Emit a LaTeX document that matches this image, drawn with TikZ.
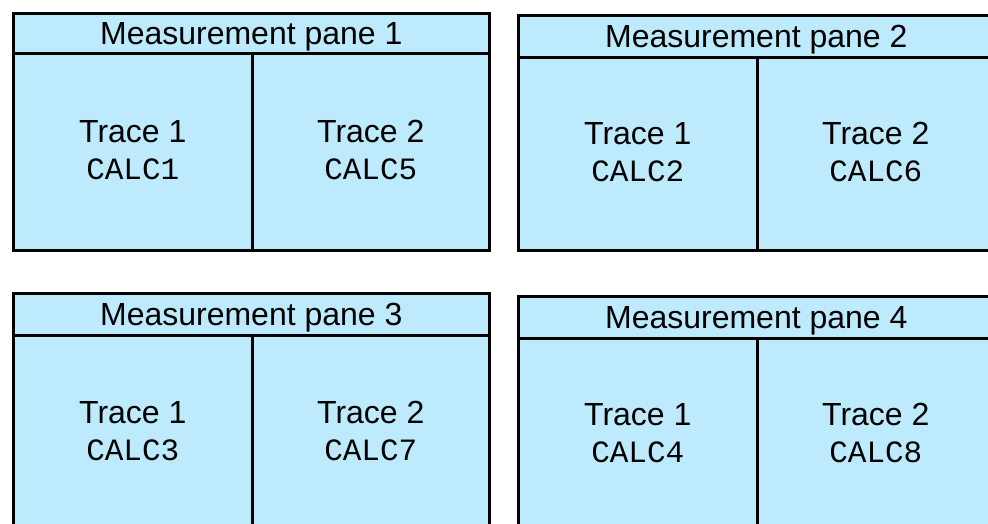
\documentclass[tikz,border=0pt]{standalone}
\usepackage{fontspec}
\setmainfont{Liberation Sans}
\setmonofont{Liberation Mono}
\definecolor{panefill}{RGB}{189,235,253}
\newcommand\mpane[8]{%
  \node[cell, minimum width=476pt, minimum height={#4*1pt}] (#1-h) at (#2,#3) {};
  \node[cell, minimum width=239pt, minimum height={(#5-#4)*1pt}] (#1-l) at (#2,#3+#4) {};
  \node[cell, minimum width=237pt, minimum height={(#5-#4)*1pt}] (#1-r) at (#2+239,#3+#4) {};
  \node[titlelbl] (#1-t) at ([yshift=-11.5pt]#1-h.center) {Measurement pane #6};
  \node[tracelbl] (#1-la) at ([yshift=9pt]#1-l.center) {Trace 1};
  \node[calclbl] (#1-lb) at ([yshift=-27.5pt]#1-l.center) {#7};
  \node[tracelbl] (#1-ra) at ([yshift=9pt]#1-r.center) {Trace 2};
  \node[calclbl] (#1-rb) at ([yshift=-27.5pt]#1-r.center) {#8};
}
\begin{document}
\begin{tikzpicture}[x=1pt,y=-1pt,
  cell/.style={draw=black, fill=panefill, line width=2.6pt, inner sep=0pt, anchor=north west},
  titlelbl/.style={font=\fontsize{32}{38}\selectfont, inner sep=0pt, anchor=base},
  tracelbl/.style={font=\fontsize{32}{38}\selectfont, inner sep=0pt, anchor=base},
  calclbl/.style={font=\fontsize{31}{36}\selectfont\ttfamily, inner sep=0pt, anchor=base}]
\useasboundingbox (0,0) rectangle (988,524);
\mpane{p1}{12}{12}{40}{237}{1}{CALC1}{CALC5}
\mpane{p2}{517}{14}{42}{235}{2}{CALC2}{CALC6}
\mpane{p3}{12}{292}{42}{237}{3}{CALC3}{CALC7}
\mpane{p4}{517}{295}{42}{235}{4}{CALC4}{CALC8}
\end{tikzpicture}
\end{document}
